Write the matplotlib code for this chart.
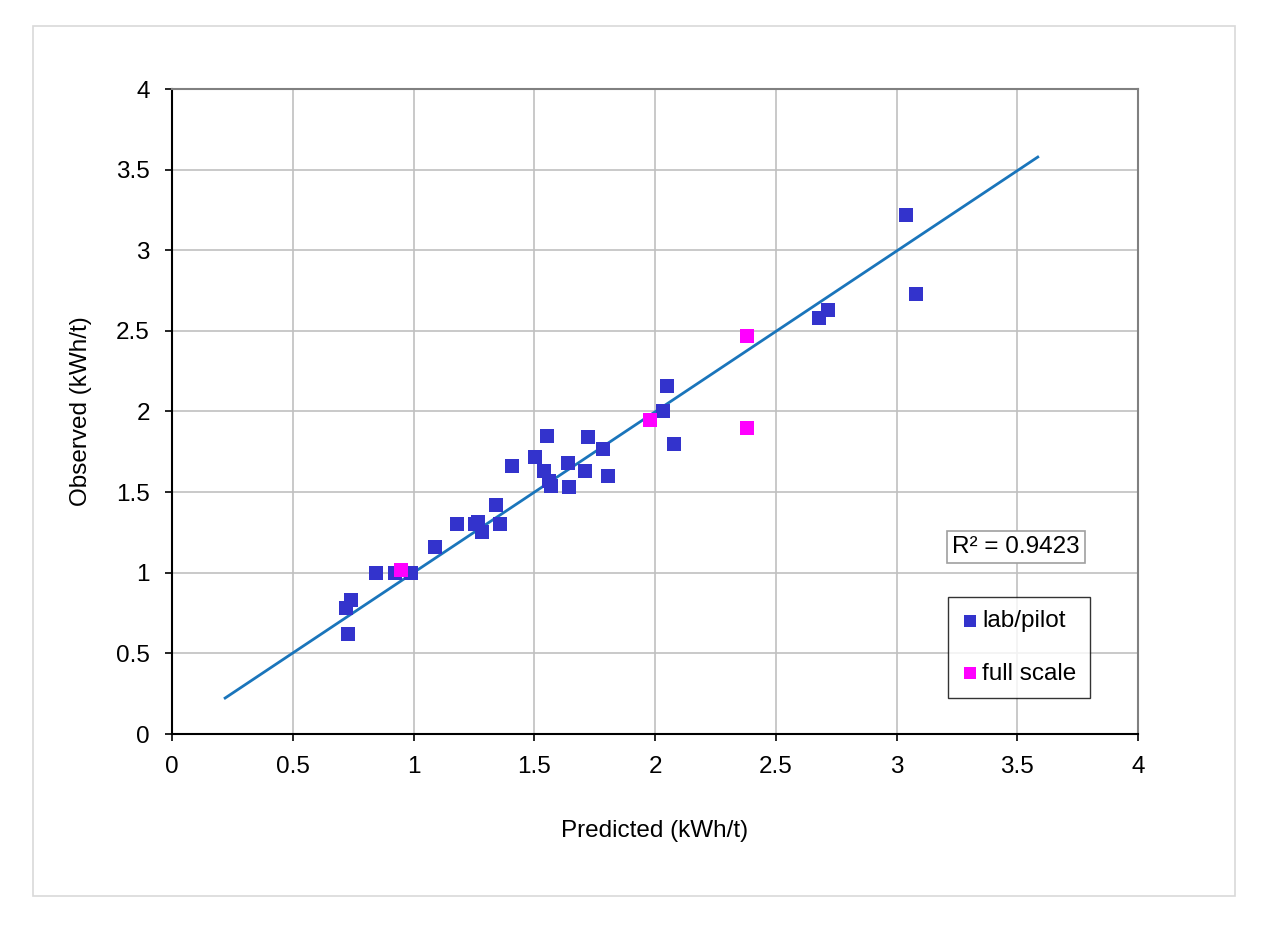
import matplotlib
matplotlib.use("Agg")
import matplotlib.pyplot as plt
from matplotlib.patches import Rectangle

plt.rcParams['font.family'] = ['Liberation Sans', 'DejaVu Sans']

lab_x = [0.72, 0.74, 0.73, 0.845, 0.925, 0.99, 1.09, 1.18, 1.255, 1.268, 1.285, 1.342,
         1.358, 1.407, 1.503, 1.554, 1.542, 1.562, 1.568, 1.641, 1.642, 1.710, 1.721,
         1.786, 1.807, 2.034, 2.048, 2.080, 2.681, 2.717, 3.039, 3.081]
lab_y = [0.78, 0.83, 0.62, 1.00, 1.00, 1.00, 1.16, 1.30, 1.30, 1.317, 1.25, 1.42,
         1.30, 1.66, 1.72, 1.85, 1.63, 1.57, 1.54, 1.68, 1.53, 1.63, 1.84,
         1.77, 1.60, 2.00, 2.16, 1.80, 2.58, 2.63, 3.22, 2.73]
full_x = [0.95, 1.98, 2.38, 2.38]
full_y = [1.02, 1.95, 2.47, 1.90]
trend_x = [0.22, 3.585]
trend_y = [0.223, 3.578]
r2_text = "R² = 0.9423"
ticks = [0, 0.5, 1, 1.5, 2, 2.5, 3, 3.5, 4]
tick_labels = ["0", "0.5", "1", "1.5", "2", "2.5", "3", "3.5", "4"]

FS = 17.5

fig = plt.figure(figsize=(12.64, 9.30), dpi=100)
fig.patch.set_facecolor('white')
fig.add_artist(Rectangle((33/1264, 1-896/930), (1235-33)/1264, (896-26)/930,
                         transform=fig.transFigure, fill=False, edgecolor='#d9d9d9', lw=1.2))

ax = fig.add_axes([172/1264, 1-734/930, (1138-172)/1264, (734-89)/930])
ax.set_xlim(0, 4)
ax.set_ylim(0, 4)
ax.set_xticks(ticks)
ax.set_xticklabels(tick_labels)
ax.set_yticks(ticks)
ax.set_yticklabels(tick_labels)
ax.grid(True, color='#c0c0c0', lw=1.2)
ax.set_axisbelow(True)
for s in ['top', 'right']:
    ax.spines[s].set_color('#808080')
    ax.spines[s].set_linewidth(1.5)
for s in ['left', 'bottom']:
    ax.spines[s].set_color('black')
    ax.spines[s].set_linewidth(1.5)
ax.tick_params(direction='out', length=5, width=1.2, labelsize=FS, colors='black', pad=11)

ax.plot(trend_x, trend_y, color='#1a75bb', lw=2, zorder=2)
ax.scatter(lab_x, lab_y, marker='s', s=95, color='#3333cc', linewidths=0, zorder=3, label='lab/pilot')
ax.scatter(full_x, full_y, marker='s', s=95, color='#ff00ff', linewidths=0, zorder=4, label='full scale')

ax.set_xlabel("Predicted (kWh/t)", fontsize=FS, labelpad=30)
ax.set_ylabel("Observed (kWh/t)", fontsize=FS, labelpad=17)

ax.text(3.495, 1.16, r2_text, fontsize=FS, ha='center', va='center',
        bbox=dict(boxstyle='square,pad=0.2', fc='white', ec='#a0a0a0', lw=1.2))

leg = ax.legend(loc='upper left', bbox_to_anchor=((948-172)/966, (734-597)/645),
                fontsize=FS, frameon=True, fancybox=False, edgecolor='black',
                handletextpad=0.15, handlelength=0.7, labelspacing=1.25,
                borderpad=0.55, markerscale=0.88, borderaxespad=0)
leg.get_frame().set_linewidth(1.0)

fig.savefig("out.png", dpi=100, facecolor='white')
